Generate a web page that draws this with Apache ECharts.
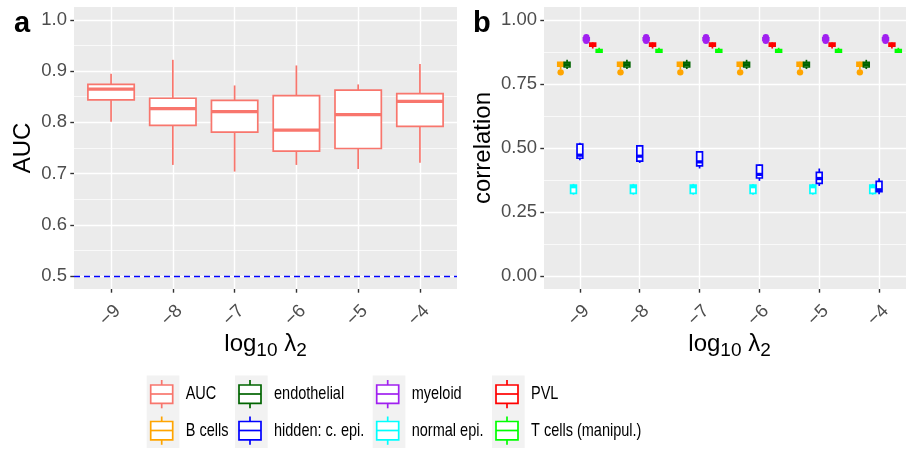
<!DOCTYPE html>
<html>
<head>
<meta charset="utf-8">
<script src="https://cdn.jsdelivr.net/npm/echarts@6/dist/echarts.min.js"></script>
<style>
  html, body { margin: 0; padding: 0; background: #ffffff; }
  #chart { width: 906px; height: 449px; }
</style>
</head>
<body>
<div id="chart"></div>
<script>
// ---- data -------------------------------------------------------------
// x categories: log10(lambda2)
const log10Lambda2 = ['−9', '−8', '−7', '−6', '−5', '−4'];

// boxplot rows: [lower whisker, Q1, median, Q3, upper whisker]
const aucBoxes = [
  [0.801, 0.844, 0.865, 0.874, 0.895],
  [0.717, 0.794, 0.827, 0.847, 0.922],
  [0.704, 0.781, 0.821, 0.843, 0.872],
  [0.717, 0.744, 0.785, 0.852, 0.911],
  [0.709, 0.749, 0.815, 0.863, 0.874],
  [0.721, 0.792, 0.841, 0.856, 0.914]
];
const chanceAUC = 0.5;

const bCellsBoxes = [
  [0.806, 0.819, 0.826, 0.834, 0.836], [0.806, 0.819, 0.826, 0.834, 0.836],
  [0.806, 0.819, 0.826, 0.834, 0.836], [0.806, 0.819, 0.826, 0.834, 0.836],
  [0.806, 0.819, 0.826, 0.834, 0.836], [0.806, 0.819, 0.826, 0.834, 0.836]
];
const bCellsOutliers = [[0.795], [0.795], [0.795], [0.795], [0.795], [0.795]];

const endothelialBoxes = [
  [0.808, 0.816, 0.825, 0.834, 0.844], [0.808, 0.816, 0.825, 0.834, 0.844],
  [0.808, 0.816, 0.825, 0.834, 0.844], [0.808, 0.816, 0.825, 0.834, 0.844],
  [0.808, 0.816, 0.825, 0.834, 0.844], [0.808, 0.816, 0.825, 0.834, 0.844]
];

const normalEpiBoxes = [
  [0.318, 0.323, 0.349, 0.355, 0.360], [0.318, 0.323, 0.349, 0.355, 0.360],
  [0.318, 0.323, 0.349, 0.355, 0.360], [0.318, 0.323, 0.349, 0.355, 0.360],
  [0.318, 0.323, 0.349, 0.355, 0.360], [0.318, 0.323, 0.349, 0.355, 0.360]
];

const hiddenEpiBoxes = [
  [0.452, 0.460, 0.472, 0.515, 0.520],
  [0.442, 0.449, 0.468, 0.508, 0.512],
  [0.420, 0.430, 0.446, 0.485, 0.488],
  [0.372, 0.383, 0.397, 0.433, 0.436],
  [0.352, 0.362, 0.381, 0.405, 0.420],
  [0.320, 0.330, 0.337, 0.370, 0.382]
];

const myeloidBoxes = [
  [0.915, 0.920, 0.925, 0.930, 0.935], [0.915, 0.920, 0.925, 0.930, 0.935],
  [0.915, 0.920, 0.925, 0.930, 0.935], [0.915, 0.920, 0.925, 0.930, 0.935],
  [0.915, 0.920, 0.925, 0.930, 0.935], [0.915, 0.920, 0.925, 0.930, 0.935]
];
const myeloidOutliers = [
  [0.918, 0.932], [0.918, 0.932], [0.918, 0.932],
  [0.918, 0.932], [0.918, 0.932], [0.918, 0.932]
];

const pvlBoxes = [
  [0.888, 0.897, 0.903, 0.909, 0.912], [0.888, 0.897, 0.903, 0.909, 0.912],
  [0.888, 0.897, 0.903, 0.909, 0.912], [0.888, 0.897, 0.903, 0.909, 0.912],
  [0.888, 0.897, 0.903, 0.909, 0.912], [0.888, 0.897, 0.903, 0.909, 0.912]
];

const tCellsBoxes = [
  [0.872, 0.874, 0.879, 0.884, 0.891], [0.872, 0.874, 0.879, 0.884, 0.891],
  [0.872, 0.874, 0.879, 0.884, 0.891], [0.872, 0.874, 0.879, 0.884, 0.891],
  [0.872, 0.874, 0.879, 0.884, 0.891], [0.872, 0.874, 0.879, 0.884, 0.891]
];

// axis ticks
const aucTicks = [0.5, 0.6, 0.7, 0.8, 0.9, 1.0];
const aucMinorTicks = [0.55, 0.65, 0.75, 0.85, 0.95];
const corTicks = [0, 0.25, 0.5, 0.75, 1.0];
const corMinorTicks = [0.125, 0.375, 0.625, 0.875];

// ---- styling ----------------------------------------------------------
const AUC_COLOR = '#F8766D';
// dodge order inside each lambda2 slot
const cellGroups = [
  { name: 'B cells',            color: '#FFA500', boxes: bCellsBoxes,      outliers: bCellsOutliers },
  { name: 'endothelial',        color: '#006400', boxes: endothelialBoxes, outliers: null },
  { name: 'normal epi.',        color: '#00FFFF', boxes: normalEpiBoxes,   outliers: null },
  { name: 'hidden: c. epi.',    color: '#0000FF', boxes: hiddenEpiBoxes,   outliers: null },
  { name: 'myeloid',            color: '#A020F0', boxes: myeloidBoxes,     outliers: myeloidOutliers },
  { name: 'PVL',                color: '#FF0000', boxes: pvlBoxes,         outliers: null },
  { name: 'T cells (manipul.)', color: '#00FF00', boxes: tCellsBoxes,      outliers: null }
];

const FONT = 'Liberation Sans, Arial, sans-serif';
const PANEL_BG = '#EBEBEB';
const LW = 1.7;
const DODGE = 0.75;
const X_INDEX = log10Lambda2.map((_, i) => i);
const X_MIN = -0.6, X_MAX = 5.6;          // discrete axis with 0.6 padding each side
const GRIDS = [
  { left: 74, right: 449, top: 7, bottom: 160 },
  { left: 544, right: -9, top: 7, bottom: 160 }
];
const CHART_W = 906;
const TICK_LABEL_SHIFT = 6.5;             // px: rotated tick labels hang right of their tick

function boxRenderer(color, slot, nSlots, padding) {
  return function (params, api) {
    const step = DODGE / nSlots;
    const x = api.value(0) + (slot - (nSlots - 1) / 2) * step;
    const half = step * (1 - padding) / 2;
    const xl = api.coord([x - half, 0])[0];
    const xr = api.coord([x + half, 0])[0];
    const xc = api.coord([x, 0])[0];
    const py = i => api.coord([x, api.value(i)])[1];
    const lo = py(1), q1 = py(2), md = py(3), q3 = py(4), hi = py(5);
    const ls = { stroke: color, lineWidth: LW };
    return {
      type: 'group',
      children: [
        { type: 'line', shape: { x1: xc, y1: hi, x2: xc, y2: q3 }, style: ls },
        { type: 'line', shape: { x1: xc, y1: q1, x2: xc, y2: lo }, style: ls },
        { type: 'rect', shape: { x: xl, y: q3, width: xr - xl, height: q1 - q3 },
          style: { fill: '#ffffff', stroke: color, lineWidth: LW } },
        { type: 'line', shape: { x1: xl, y1: md, x2: xr, y2: md },
          style: { stroke: color, lineWidth: LW * 1.9 } }
      ]
    };
  };
}

function pointRenderer(color, slot, nSlots) {
  return function (params, api) {
    const step = DODGE / nSlots;
    const x = api.value(0) + (slot - (nSlots - 1) / 2) * step;
    const p = api.coord([x, api.value(1)]);
    return { type: 'circle', shape: { cx: p[0], cy: p[1], r: 3.2 }, style: { fill: color } };
  };
}

function boxData(rows) {
  return rows.map((r, i) => [X_INDEX[i]].concat(r));
}
function outlierData(rows) {
  const out = [];
  rows.forEach((vals, i) => vals.forEach(v => out.push([X_INDEX[i], v])));
  return out;
}

// ---- axes -------------------------------------------------------------
const tickStyle = { show: true, length: 3.7, lineStyle: { color: '#333333', width: 1.4 } };
const labelStyle = { color: '#4D4D4D', fontSize: 18.5, fontFamily: FONT };

function xAxisFor(gridIndex) {
  return {
    type: 'value', gridIndex: gridIndex, position: 'bottom', min: X_MIN, max: X_MAX,
    axisLine: { show: false, onZero: false },
    axisTick: Object.assign({ customValues: X_INDEX }, tickStyle),
    axisLabel: { show: false },
    splitLine: { show: true, lineStyle: { color: '#ffffff', width: 1.4 } },
    name: '{m|log}{s|10}{m| λ}{s|2}',
    nameLocation: 'middle', nameGap: 40,
    nameTextStyle: {
      rich: {
        m: { fontSize: 24, fontFamily: FONT, color: '#000000' },
        s: { fontSize: 19, fontFamily: FONT, color: '#000000', padding: [12, 0, 0, 0] }
      }
    }
  };
}

// companion axis that carries only the rotated tick labels
function xLabelAxisFor(gridIndex) {
  const g = GRIDS[gridIndex];
  const widthPx = CHART_W - g.left - g.right;
  const shift = TICK_LABEL_SHIFT / (widthPx / (X_MAX - X_MIN));
  return {
    type: 'value', gridIndex: gridIndex, position: 'bottom', offset: 0,
    min: X_MIN - shift, max: X_MAX - shift,
    axisLine: { show: false, onZero: false },
    axisTick: { show: false },
    splitLine: { show: false },
    axisLabel: Object.assign({
      customValues: X_INDEX, rotate: 45, margin: 19,
      formatter: v => log10Lambda2[Math.round(v)]
    }, labelStyle)
  };
}

function yAxisFor(gridIndex, min, max, ticks, digits, title, gap) {
  return {
    type: 'value', gridIndex: gridIndex, position: 'left', min: min, max: max,
    axisLine: { show: false, onZero: false },
    axisTick: Object.assign({ customValues: ticks }, tickStyle),
    axisLabel: Object.assign({ customValues: ticks, margin: 7, formatter: v => v.toFixed(digits) }, labelStyle),
    splitLine: { show: true, lineStyle: { color: '#ffffff', width: 1.4 } },
    name: title, nameLocation: 'middle', nameGap: gap,
    nameTextStyle: { fontSize: 24, fontFamily: FONT, color: '#000000' }
  };
}

function minorYAxisFor(gridIndex, min, max, ticks) {
  return {
    type: 'value', gridIndex: gridIndex, min: min, max: max, position: 'right',
    axisLine: { show: false, onZero: false },
    axisTick: { show: false, customValues: ticks },
    axisLabel: { show: false, customValues: ticks },
    splitLine: { show: true, lineStyle: { color: '#ffffff', width: 0.7 } }
  };
}

// ---- series -----------------------------------------------------------
const series = [];
series.push({
  type: 'custom', name: 'AUC', xAxisIndex: 0, yAxisIndex: 0,
  itemStyle: { color: AUC_COLOR },
  renderItem: boxRenderer(AUC_COLOR, 0, 1, 0),
  data: boxData(aucBoxes), z: 3
});
series.push({
  type: 'line', name: 'chance', xAxisIndex: 0, yAxisIndex: 0, data: [], silent: true,
  markLine: {
    symbol: 'none', silent: true, label: { show: false },
    lineStyle: { color: '#0000FF', type: [6, 4], width: 1.4 },
    data: [{ yAxis: chanceAUC }]
  }
});
cellGroups.forEach((g, k) => {
  series.push({
    type: 'custom', name: g.name, xAxisIndex: 1, yAxisIndex: 2,
    itemStyle: { color: g.color },
    renderItem: boxRenderer(g.color, k, cellGroups.length, 0.1),
    data: boxData(g.boxes), z: 3
  });
  if (g.outliers) {
    series.push({
      type: 'custom', name: g.name, xAxisIndex: 1, yAxisIndex: 2,
      itemStyle: { color: g.color },
      renderItem: pointRenderer(g.color, k, cellGroups.length),
      data: outlierData(g.outliers), z: 4
    });
  }
});

// ---- legend (boxplot keys, 2 rows x 4 columns) ------------------------
const colorOf = { 'AUC': AUC_COLOR };
cellGroups.forEach(g => { colorOf[g.name] = g.color; });
const legendColumns = [
  ['AUC', 'B cells'],
  ['endothelial', 'hidden: c. epi.'],
  ['myeloid', 'normal epi.'],
  ['PVL', 'T cells (manipul.)']
];
const legendKeyLeft = [150.7, 239, 376.7, 496];
const legendRowMid = [394, 430.5];

function legendKey(name, left, mid) {
  const c = colorOf[name];
  const ls = { stroke: c, lineWidth: LW };
  return {
    type: 'group', x: left, y: mid, silent: true,
    children: [
      { type: 'line', shape: { x1: 11, y1: -14, x2: 11, y2: -9 }, style: ls },
      { type: 'rect', shape: { x: 0, y: -9, width: 22, height: 18.3 },
        style: { fill: '#ffffff', stroke: c, lineWidth: LW } },
      { type: 'line', shape: { x1: 0, y1: 0, x2: 22, y2: 0 }, style: ls },
      { type: 'line', shape: { x1: 11, y1: 9.3, x2: 11, y2: 14.3 }, style: ls },
      { type: 'text', x: 35, y: 0, scaleX: 0.78,
        style: { text: name, font: '18.6px ' + FONT, fill: '#000000', align: 'left', verticalAlign: 'middle' } }
    ]
  };
}

const legendGraphics = [];
legendColumns.forEach((names, i) => {
  legendGraphics.push({
    type: 'rect', x: legendKeyLeft[i] - 4, y: 375.5, silent: true,
    shape: { width: 32.7, height: 72.5 }, style: { fill: '#F2F2F2' }
  });
  names.forEach((n, r) => legendGraphics.push(legendKey(n, legendKeyLeft[i], legendRowMid[r])));
});

// ---- chart ------------------------------------------------------------
const chart = echarts.init(document.getElementById('chart'), null, { renderer: 'canvas' });
chart.setOption({
  animation: false,
  backgroundColor: '#ffffff',
  grid: GRIDS.map(g => Object.assign({
    show: true, backgroundColor: PANEL_BG, borderWidth: 0, containLabel: false, outerBoundsMode: 'none'
  }, g)),
  xAxis: [xAxisFor(0), xAxisFor(1), xLabelAxisFor(0), xLabelAxisFor(1)],
  yAxis: [
    yAxisFor(0, 0.475, 1.025, aucTicks, 1, 'AUC', 38.6),
    minorYAxisFor(0, 0.475, 1.025, aucMinorTicks),
    yAxisFor(1, -0.05, 1.05, corTicks, 2, 'correlation', 48.6),
    minorYAxisFor(1, -0.05, 1.05, corMinorTicks)
  ],
  graphic: legendGraphics.concat([
    { type: 'text', left: 14, top: 9, style: { text: 'a', font: 'bold 29px ' + FONT, fill: '#000000' } },
    { type: 'text', left: 473, top: 9, style: { text: 'b', font: 'bold 29px ' + FONT, fill: '#000000' } }
  ]),
  series: series
});
</script>
</body>
</html>
